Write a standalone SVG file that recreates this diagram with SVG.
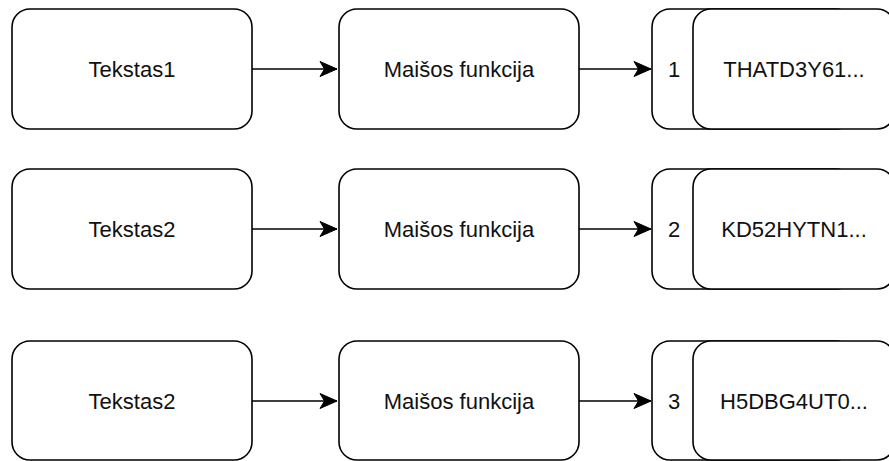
<svg xmlns="http://www.w3.org/2000/svg" width="889" height="461" viewBox="0 0 889 461">
<style>
.box{fill:#fff;stroke:#000;stroke-width:1.6}
.lbl{font-family:"Liberation Sans",Arial,sans-serif;font-size:22px;fill:#111;text-anchor:middle;dominant-baseline:central}
.edge{stroke:#000;stroke-width:1.6;fill:none;marker-end:url(#arr)}
</style>
<defs>
<marker id="arr" markerUnits="userSpaceOnUse" markerWidth="20" markerHeight="18" viewBox="-18 -9 20 18" refX="0" refY="0" orient="auto">
<path d="M0,0 L-17,-7.5 L-12.5,0 L-17,7.5 Z" fill="#000" stroke="#000" stroke-width="1"/>
</marker>
</defs>
<g id="connectors">
<path class="edge" d="M252,69 H337"/>
<path class="edge" d="M579,69 H651"/>
<path class="edge" d="M252,229 H337"/>
<path class="edge" d="M579,229 H651"/>
<path class="edge" d="M252,401 H337"/>
<path class="edge" d="M579,401 H651"/>
</g>
<g id="t1"><rect class="box" x="12" y="9" width="240" height="120" rx="18"/><text class="lbl" x="132" y="69">Tekstas1</text></g>
<g id="f1"><rect class="box" x="339" y="9" width="240" height="120" rx="18"/><text class="lbl" x="459" y="69">Maišos funkcija</text></g>
<g id="h1"><rect class="box" x="652" y="9" width="202" height="120" rx="18"/><rect class="box" x="693" y="9" width="202" height="120" rx="18"/><text class="lbl" x="674" y="69">1</text><text class="lbl" x="794" y="69">THATD3Y61...</text></g>
<g id="t2"><rect class="box" x="12" y="169" width="240" height="120" rx="18"/><text class="lbl" x="132" y="229">Tekstas2</text></g>
<g id="f2"><rect class="box" x="339" y="169" width="240" height="120" rx="18"/><text class="lbl" x="459" y="229">Maišos funkcija</text></g>
<g id="h2"><rect class="box" x="652" y="169" width="202" height="120" rx="18"/><rect class="box" x="693" y="169" width="202" height="120" rx="18"/><text class="lbl" x="674" y="229">2</text><text class="lbl" x="794" y="229">KD52HYTN1...</text></g>
<g id="t3"><rect class="box" x="12" y="341" width="240" height="119" rx="18"/><text class="lbl" x="132" y="401">Tekstas2</text></g>
<g id="f3"><rect class="box" x="339" y="341" width="240" height="119" rx="18"/><text class="lbl" x="459" y="401">Maišos funkcija</text></g>
<g id="h3"><rect class="box" x="652" y="341" width="202" height="119" rx="18"/><rect class="box" x="693" y="341" width="202" height="119" rx="18"/><text class="lbl" x="674" y="401">3</text><text class="lbl" x="794" y="401">H5DBG4UT0...</text></g>
</svg>
